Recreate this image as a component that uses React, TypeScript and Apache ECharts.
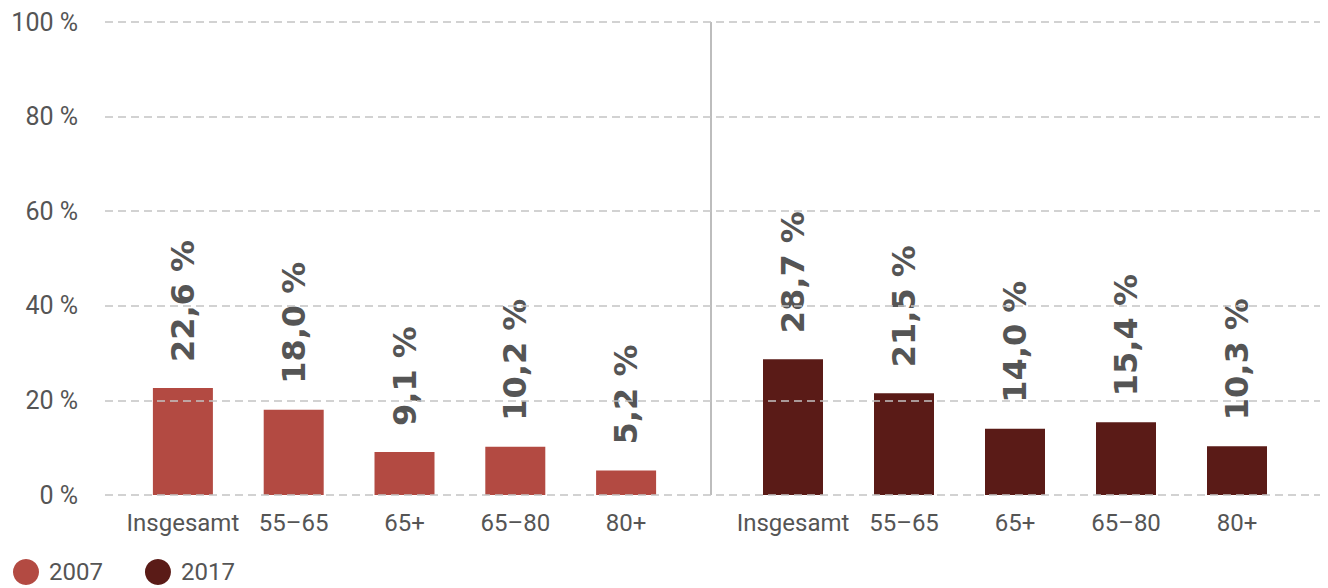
import React, { useEffect, useRef } from "react";
import * as echarts from "echarts";

const categories = ["Insgesamt", "55–65", "65+", "65–80", "80+"];
const values2007 = [22.6, 18.0, 9.1, 10.2, 5.2];
const values2017 = [28.7, 21.5, 14.0, 15.4, 10.3];
const seriesNames = ["2007", "2017"];
const yTicks = [0, 20, 40, 60, 80, 100];

const COLORS = ["#b34a42", "#5a1b17"];
const AXIS_FONT = "Roboto";
const TEXT_COLOR = "#555555";

const fmtLabel = (v: number) => v.toFixed(1).replace(".", ",") + " %";

export default function App() {
  const ref = useRef<HTMLDivElement>(null);
  useEffect(() => {
    document.body.style.margin = "0";
    if (!ref.current) return;
    const chart = echarts.init(ref.current, null, { renderer: "svg" });
    const hiddenY = (gridIndex: number) => ({
      type: "value",
      gridIndex,
      min: 0,
      max: 100,
      show: false,
      splitLine: { show: false },
    });
    const catX = (gridIndex: number) => ({
      type: "category",
      gridIndex,
      data: categories,
      axisLine: { show: false },
      axisTick: { show: false },
      axisLabel: {
        color: TEXT_COLOR,
        fontFamily: AXIS_FONT,
        fontWeight: 400,
        fontSize: 24,
        margin: 16,
        interval: 0,
      },
    });
    const barSeries = (name: string, data: number[], idx: number, color: string) => ({
      type: "bar",
      name,
      data,
      xAxisIndex: idx,
      yAxisIndex: idx,
      barWidth: 60,
      itemStyle: { color },
      z: 2,
      label: {
        show: true,
        position: "top",
        rotate: 90,
        align: "left",
        verticalAlign: "middle",
        distance: 26,
        formatter: (p: any) => fmtLabel(p.value),
        fontFamily: "DejaVu Sans",
        fontWeight: "bold",
        fontSize: 32,
        color: TEXT_COLOR,
      },
    });
    chart.setOption({
      animation: false,
      backgroundColor: "#ffffff",
      grid: [
        { left: 105, right: 8, top: 22, height: 473 },
        { left: 127.5, width: 554, top: 22, height: 473 },
        { left: 737.5, width: 555, top: 22, height: 473 },
      ],
      xAxis: [{ type: "value", gridIndex: 0, show: false, min: 0, max: 1 }, catX(1), catX(2)],
      yAxis: [
        {
          type: "value",
          gridIndex: 0,
          min: yTicks[0],
          max: yTicks[yTicks.length - 1],
          interval: 20,
          z: 10,
          axisLine: { show: false },
          axisTick: { show: false },
          axisLabel: {
            formatter: (v: number) => v + " %",
            color: TEXT_COLOR,
            fontFamily: AXIS_FONT,
            fontWeight: 400,
            fontSize: 25,
            margin: 27,
          },
          splitLine: {
            show: true,
            lineStyle: { color: "#c4c4c4", type: [8, 5], width: 1.5 },
          },
        },
        hiddenY(1),
        hiddenY(2),
      ],
      legend: {
        data: seriesNames,
        left: 8,
        top: 554,
        icon: "circle",
        itemWidth: 26,
        itemHeight: 26,
        itemGap: 42,
        textStyle: {
          color: TEXT_COLOR,
          fontFamily: AXIS_FONT,
          fontWeight: 400,
          fontSize: 24,
          lineHeight: 26,
          padding: [0, 0, 0, 5],
        },
      },
      graphic: [
        {
          type: "line",
          shape: { x1: 711, y1: 22, x2: 711, y2: 495 },
          style: { stroke: "#bdbdbd", lineWidth: 2 },
          z: 1,
        },
      ],
      series: [
        barSeries(seriesNames[0], values2007, 1, COLORS[0]),
        barSeries(seriesNames[1], values2017, 2, COLORS[1]),
      ],
    });
    return () => chart.dispose();
  }, []);
  return <div ref={ref} style={{ width: 1328, height: 588 }} />;
}
